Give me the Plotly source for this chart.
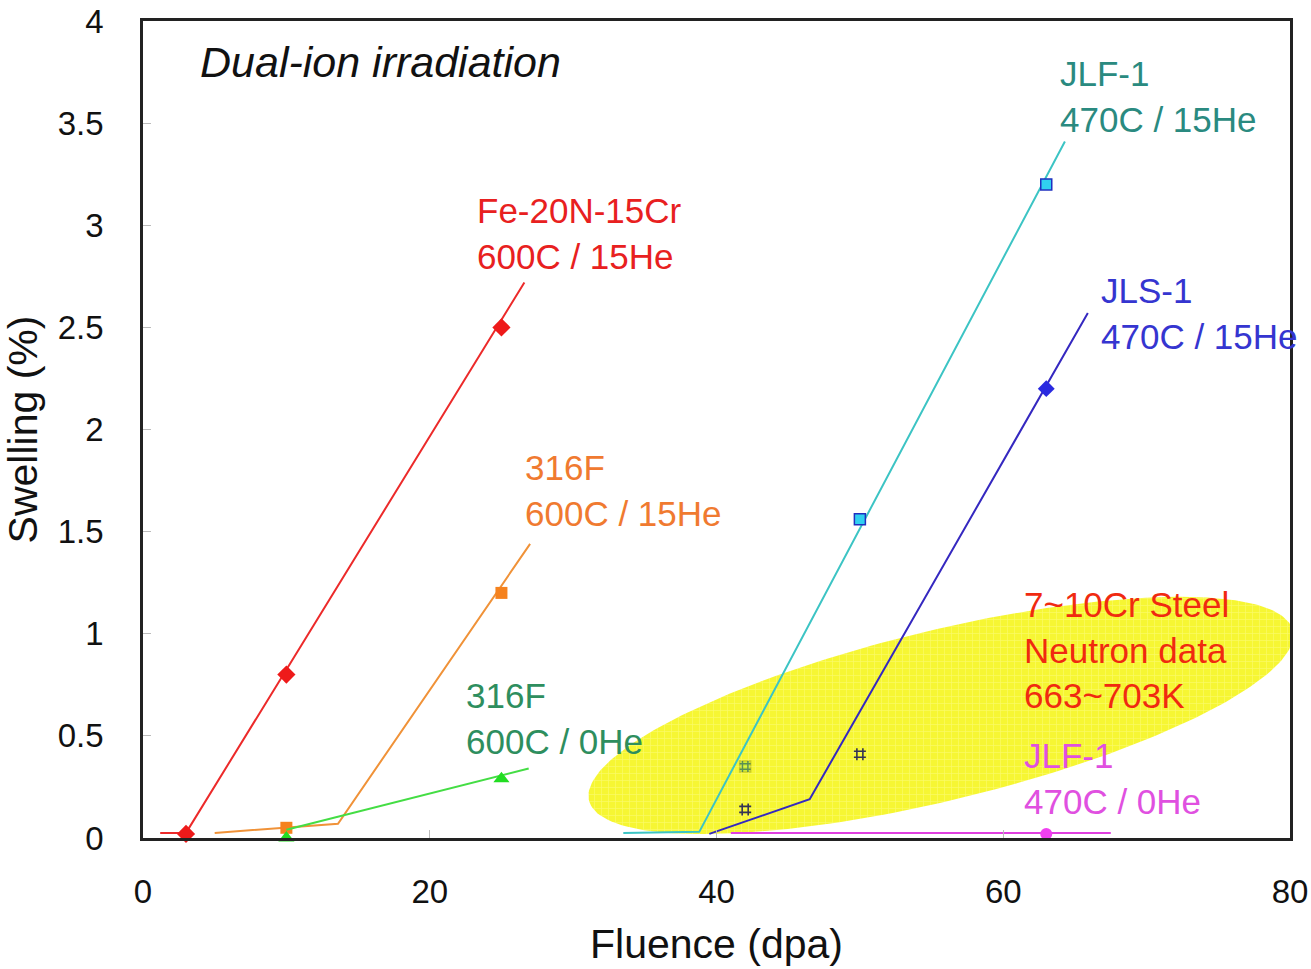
import numpy as np
import plotly.graph_objects as go

# Swelling vs fluence, dual-ion irradiation
fe_x = [3, 10, 25]
fe_y = [0.02, 0.80, 2.50]
fe_fit_x = [1.2, 3, 26.6]
fe_fit_y = [0.025, 0.025, 2.72]

s316_he_x = [10, 25]
s316_he_y = [0.05, 1.20]
s316_he_fit_x = [5.0, 13.6, 27.0]
s316_he_fit_y = [0.025, 0.07, 1.44]

s316_0_x = [10, 25]
s316_0_y = [0.0, 0.29]
s316_0_fit_x = [10.0, 26.9]
s316_0_fit_y = [0.04, 0.34]

jlf_x = [42, 50, 63]
jlf_y = [0.35, 1.56, 3.20]
jlf_fit_x = [33.5, 38.8, 64.3]
jlf_fit_y = [0.025, 0.03, 3.41]

jls_x = [42, 50, 63]
jls_y = [0.14, 0.41, 2.20]
jls_fit_x = [39.5, 46.5, 65.9]
jls_fit_y = [0.02, 0.19, 2.57]

jlf0_x = [63]
jlf0_y = [0.02]
jlf0_fit_x = [41.0, 67.5]
jlf0_fit_y = [0.025, 0.025]

# neutron-data band (ellipse): centre in data units, axes in screen pixels
band_cx, band_cy = 55.65, 0.60
band_a_px, band_b_px, band_angle_deg = 362, 85, 13.6

x_range = [0, 80]
y_range = [0, 4]
x_ticks = [0, 20, 40, 60, 80]
y_ticks = [0, 0.5, 1, 1.5, 2, 2.5, 3, 3.5, 4]
y_tick_text = ["0", "0.5", "1", "1.5", "2", "2.5", "3", "3.5", "4"]

W, H = 1311, 969
ML, MR, MT, MB = 143, 21, 21, 131
plot_w = W - ML - MR
plot_h = H - MT - MB
px_x = plot_w / (x_range[1] - x_range[0])
px_y = plot_h / (y_range[1] - y_range[0])

FONT = "Liberation Sans, Arial, sans-serif"

fig = go.Figure()

# markers lying under the neutron band
in_f = [i for i, v in enumerate(jlf_x) if v < 45]
fig.add_trace(go.Scatter(
    x=[jlf_x[i] for i in in_f], y=[jlf_y[i] for i in in_f], mode="markers",
    marker=dict(symbol="square", size=11, color="#30d0f0",
                line=dict(color="#2030c0", width=1.5)),
    showlegend=False, hoverinfo="skip"))

# ellipse
t = np.linspace(0, 2 * np.pi, 240)
th = np.deg2rad(band_angle_deg)
ex_px = band_a_px * np.cos(t) * np.cos(th) - band_b_px * np.sin(t) * np.sin(th)
ey_px = band_a_px * np.cos(t) * np.sin(th) + band_b_px * np.sin(t) * np.cos(th)
fig.add_trace(go.Scatter(
    x=band_cx + ex_px / px_x, y=band_cy + ey_px / px_y,
    mode="lines", line=dict(width=0, color="rgba(0,0,0,0)"),
    fill="toself", fillcolor="rgba(245,245,20,0.85)",
    fillpattern=dict(shape="+", bgcolor="rgba(244,244,0,0.8)",
                     fgcolor="rgba(255,255,190,0.9)", size=7, solidity=0.15),
    showlegend=False, hoverinfo="skip"))

# hatched glyphs showing through the band
fig.add_trace(go.Scatter(
    x=[jlf_x[i] for i in in_f], y=[jlf_y[i] for i in in_f], mode="markers",
    marker=dict(symbol="hash-open", size=11, color="rgba(60,120,90,0.8)",
                line=dict(width=1.5)),
    showlegend=False, hoverinfo="skip"))
in_s = [i for i, v in enumerate(jls_x) if v < 55]
fig.add_trace(go.Scatter(
    x=[jls_x[i] for i in in_s], y=[jls_y[i] for i in in_s], mode="markers",
    marker=dict(symbol="hash-open", size=12, color="#333355",
                line=dict(width=1.6)),
    showlegend=False, hoverinfo="skip"))

def series(fx, fy, mx, my, lcol, msym, msize, mcol, mline=None):
    fig.add_trace(go.Scatter(x=fx, y=fy, mode="lines",
                             line=dict(color=lcol, width=2),
                             showlegend=False, hoverinfo="skip"))
    fig.add_trace(go.Scatter(x=mx, y=my, mode="markers",
                             marker=dict(symbol=msym, size=msize, color=mcol,
                                         line=mline or dict(width=0)),
                             cliponaxis=False, showlegend=False))

series(fe_fit_x, fe_fit_y, fe_x, fe_y, "#ec2a2a", "diamond", 14, "#ee1a1a")
series(s316_he_fit_x, s316_he_fit_y, s316_he_x, s316_he_y, "#f09238", "square", 12, "#f5821e")
series(s316_0_fit_x, s316_0_fit_y, s316_0_x, s316_0_y, "#44dd44", "triangle-up", 14, "#22dd22")
series(jlf_fit_x, jlf_fit_y,
       [v for v in jlf_x if v >= 45], [jlf_y[i] for i, v in enumerate(jlf_x) if v >= 45],
       "#3cc4c4", "square", 11, "#30d0f0", dict(color="#2030c0", width=1.5))
series(jls_fit_x, jls_fit_y,
       [v for v in jls_x if v >= 55], [jls_y[i] for i, v in enumerate(jls_x) if v >= 55],
       "#3528c0", "diamond", 13, "#2a2ae0")
series(jlf0_fit_x, jlf0_fit_y, jlf0_x, jlf0_y, "#e040e0", "circle", 12, "#f040f0")

labels = [
    (23.15, 2.96, "Fe-20N-15Cr<br>600C / 15He", "#e82020"),
    (26.5, 1.70, "316F<br>600C / 15He", "#f07a30"),
    (22.4, 0.583, "316F<br>600C / 0He", "#2e8e5e"),
    (63.8, 3.63, "JLF-1<br>470C / 15He", "#2a8a80"),
    (66.7, 2.566, "JLS-1<br>470C / 15He", "#3535d0"),
    (61.3, 0.92, "7~10Cr Steel<br>Neutron data<br>663~703K", "#f02a10"),
    (61.3, 0.29, "JLF-1<br>470C / 0He", "#e050e0"),
]
for x, y, txt, col in labels:
    fig.add_annotation(x=x, y=y, text=txt, showarrow=False, xanchor="left",
                       yanchor="middle", align="left",
                       font=dict(family=FONT, size=35, color=col))

fig.add_annotation(x=3.83, y=3.80, text="<i>Dual-ion irradiation</i>", showarrow=False,
                   xanchor="left", yanchor="middle",
                   font=dict(family=FONT, size=43, color="#111111"))

fig.update_xaxes(range=x_range, tickvals=x_ticks, ticks="inside", ticklen=8,
                 tickcolor="#bbbbbb", showgrid=False, zeroline=False,
                 showline=True, mirror=True, linecolor="#222222", linewidth=2.5,
                 tickfont=dict(family=FONT, size=33, color="#111111"),
                 ticklabelstandoff=23,
                 title=dict(text="Fluence (dpa)", standoff=20,
                            font=dict(family=FONT, size=41, color="#111111")))
fig.update_yaxes(range=y_range, tickvals=y_ticks, ticktext=y_tick_text,
                 ticks="inside", ticklen=8, tickcolor="#bbbbbb",
                 showgrid=False, zeroline=False,
                 showline=True, mirror=True, linecolor="#222222", linewidth=2.5,
                 tickfont=dict(family=FONT, size=33, color="#111111"),
                 ticklabelstandoff=30,
                 title=dict(text="Swelling (%)", standoff=8,
                            font=dict(family=FONT, size=41, color="#111111")))

fig.update_layout(width=W, height=H, plot_bgcolor="white", paper_bgcolor="white",
                  margin=dict(l=ML, r=MR, t=MT, b=MB, autoexpand=False),
                  showlegend=False)

fig.write_html("out.html")
